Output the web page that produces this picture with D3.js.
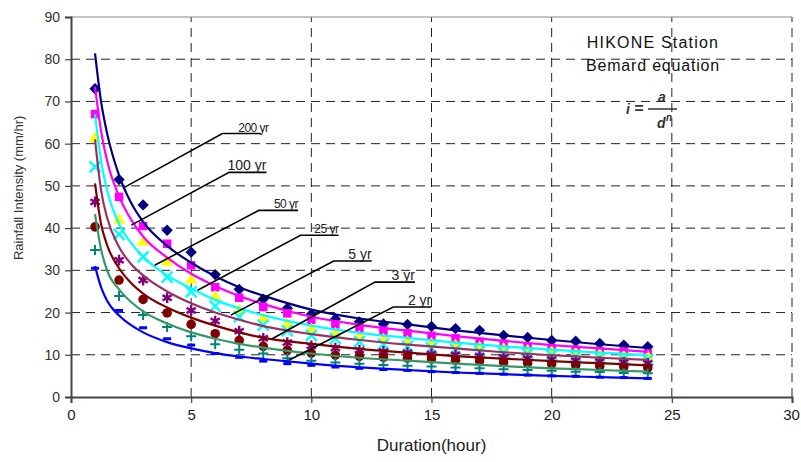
<!DOCTYPE html>
<html><head><meta charset="utf-8">
<script src="https://cdn.jsdelivr.net/npm/d3@7"></script>
<style>body{margin:0;background:#fff}svg{display:block;font-family:"Liberation Sans",Arial,sans-serif}</style>
</head><body><svg id="c" width="801" height="462"></svg>
<script>
// ---- data ----
const durations = [1,2,3,4,5,6,7,8,9,10,11,12,13,14,15,16,17,18,19,20,21,22,23,24];
const xTicks = [0,5,10,15,20,25,30];
const yTicks = [0,10,20,30,40,50,60,70,80,90];
const s1 = [73,51.5,45.5,39.5,34.3,29,25.5,23.2,21,19.6,18.5,17.8,17.3,17.2,16.7,16.2,15.8,14.6,14.1,13.4,13.2,12.7,12.3,11.9];
const s2 = [67,47.4,40.5,36.3,31.2,26,23.5,21.3,19.8,18.3,17.2,16.4,15.7,15.1,14.5,13.9,13.1,12.6,11.9,11.6,11.2,10.8,10.9,10.3];
const s3 = [61.2,41.9,36.7,32,27.7,23.7,20.5,18.6,17.2,16.0,15.0,14.2,13.6,13.1,12.6,12.2,11.8,11.4,11.0,10.7,10.4,10.1,9.8,9.5];
const s4 = [54.5,38.5,33.2,28.4,24.9,21.5,19.0,17.0,15.7,14.6,13.8,13.1,12.5,12.0,11.6,11.2,10.8,10.5,10.2,9.9,9.6,9.3,9.1,8.8];
const s5 = [46.2,32.4,27.7,23.5,20.5,18.0,15.6,13.9,12.9,12.1,11.6,11.1,10.8,10.5,10.2,10.0,9.7,9.4,9.1,8.9,8.6,8.4,8.2,8.0];
const s6 = [40.3,27.7,23.1,19.9,17.2,15.0,13.4,12.0,11.1,10.4,9.9,9.6,9.4,9.2,9.0,8.7,8.5,8.2,8.0,7.8,7.5,7.3,7.1,6.9];
const s7 = [34.8,23.9,19.4,16.6,14.4,12.5,11.2,10.3,9.2,8.6,8.2,7.9,7.6,7.4,7.2,7.0,6.8,6.6,6.4,6.2,6.0,5.9,5.7,5.6];
const s8 = [30.5,20.5,16.4,13.8,12.3,10.3,9.4,8.5,7.9,7.5,7.1,6.8,6.5,6.3,6.0,5.8,5.6,5.4,5.2,5.0,4.9,4.7,4.6,4.4];
// fitted curves
const curveX = [1,1.25,1.5,2,2.5,3,4,5,6,7,8,10,12,14,16,18,20,22,24];
const c200 = [81.4,70,62.5,52.5,46,41.5,35.8,31.8,28.6,26,24,20.7,18.6,17.2,15.8,14.6,13.5,12.5,11.6];
const c100 = [73.5,63,56,47.5,42,38,33,29.2,26.3,23.9,22,19,17.1,15.7,14.4,13.3,12.3,11.5,10.7];
const c50  = [67,56,49,41,36.5,33.2,28.8,25.7,23.0,21.0,19.4,16.9,15.2,14.0,12.9,12.0,11.2,10.5,9.9];
const c25  = [61,49,42.5,35.5,31.5,28.8,25,22.2,20.0,18.3,16.8,14.9,13.5,12.4,11.5,10.6,9.9,9.3,8.8];
const c5   = [50.6,41,36,30.5,27,24.5,21.2,18.8,16.9,15.3,14.0,12.6,11.4,10.5,9.7,9.1,8.5,8.0,7.5];
const c3   = [43.3,35,30,25.5,22.5,20.3,17.4,15.3,13.8,12.6,11.7,10.3,9.3,8.6,7.9,7.3,6.8,6.4,6.0];
const c2   = [31,26,22.8,19.3,17,15.3,13.0,11.5,10.4,9.6,9.0,7.9,7.0,6.4,5.8,5.4,5.0,4.7,4.4];
const labels = ["200 yr","100 yr","50 yr","25 yr","5 yr","3 yr","2 yr"];
// leader: start (x,y), elbow (x,y), end x  — in data units
const leaderStart = [[2.24,49.7],[2.51,40.7],[3.48,31.2],[5.27,25.3],[6.65,19.4],[8.37,13.8],[9.06,8.7]];
const leaderElbow = [[6.30,62.4],[6.58,53.2],[7.82,44.2],[9.55,38.3],[10.93,32.2],[12.65,27.2],[13.41,21.3]];
const leaderEnd = [7.89,8.13,9.45,11.13,12.51,14.31,14.99];
const titleLines = ["HIKONE Station","Bemard equation"];
const xTitle = "Duration(hour)";
const yTitle = "Rainfall Intensity (mm/hr)";

// ---- chart ----
const svg = d3.select("#c");
const x = d3.scaleLinear().domain([0,30]).range([71,792]);
const y = d3.scaleLinear().domain([0,90]).range([397,17]);

// grid
const g = svg.append("g");
g.selectAll(".hg").data(yTicks.filter(d=>d>0&&d<90)).join("line")
  .attr("x1",x(0)).attr("x2",x(30)).attr("y1",d=>y(d)).attr("y2",d=>y(d))
  .attr("stroke","#222").attr("stroke-width",1).attr("stroke-dasharray","9,6");
g.selectAll(".vg").data(xTicks.filter(d=>d>0)).join("line")
  .attr("x1",d=>x(d)).attr("x2",d=>x(d)).attr("y1",y(0)).attr("y2",y(90))
  .attr("stroke","#222").attr("stroke-width",1).attr("stroke-dasharray","9,6");
g.append("line").attr("x1",x(0)).attr("x2",x(30)).attr("y1",y(90)).attr("y2",y(90))
  .attr("stroke","#888").attr("stroke-width",1);

// axes
const yAxis = svg.append("g").attr("transform",`translate(${x(0)},0)`)
  .call(d3.axisLeft(y).tickValues(yTicks).tickSize(6).tickPadding(5));
const xAxis = svg.append("g").attr("transform",`translate(0,${y(0)})`)
  .call(d3.axisBottom(x).tickValues(xTicks).tickSize(6).tickPadding(6));
[yAxis,xAxis].forEach(a=>{
  a.select(".domain").attr("stroke","#444").attr("stroke-width",2);
  a.selectAll(".tick line").attr("stroke","#444").attr("stroke-width",1.2);
});
yAxis.selectAll("text").attr("font-size",14).attr("fill","#333").attr("font-family","Liberation Sans, Arial");
xAxis.selectAll("text").attr("font-size",15).attr("fill","#222").attr("font-family","Liberation Sans, Arial")
  .attr("dx",d=>d===30?-1:0);

svg.append("text").attr("x",(x(0)+x(30))/2).attr("y",451).attr("text-anchor","middle")
  .attr("font-size",17).attr("fill","#222").text(xTitle);
svg.append("text").attr("transform",`translate(23,${y(50)+2}) rotate(-90)`).attr("text-anchor","middle")
  .attr("font-size",13).attr("fill","#333").text(yTitle);

// markers
const mk = svg.append("g");
const sym = (type,size)=>d3.symbol().type(type).size(size)();
const pos = (d,i)=>`translate(${x(durations[i])},${y(d)})`;
mk.selectAll(".m1").data(s1).join("path").attr("d",sym(d3.symbolSquare,64))
  .attr("transform",(d,i)=>pos(d,i)+" rotate(45)").attr("fill","#000080");
mk.selectAll(".m2").data(s2).join("path").attr("d",sym(d3.symbolSquare,72))
  .attr("transform",pos).attr("fill","#FF00FF");
mk.selectAll(".m3").data(s3).join("path").attr("d",sym(d3.symbolTriangle,64))
  .attr("transform",pos).attr("fill","#FFFF00");
mk.selectAll(".m4").data(s4).join("path").attr("d",sym(d3.symbolX,80))
  .attr("transform",pos).attr("fill","none").attr("stroke","#00FFFF").attr("stroke-width",2.4);
mk.selectAll(".m5").data(s5).join("path").attr("d",sym(d3.symbolAsterisk,80))
  .attr("transform",pos).attr("fill","none").attr("stroke","#800080").attr("stroke-width",2.4);
mk.selectAll(".m6").data(s6).join("path").attr("d",sym(d3.symbolCircle,72))
  .attr("transform",pos).attr("fill","#800000");
mk.selectAll(".m7").data(s7).join("path").attr("d","M-5,0H5M0,-5V5")
  .attr("transform",pos).attr("fill","none").attr("stroke","#008080").attr("stroke-width",2);
mk.selectAll(".m8").data(s8).join("path").attr("d","M-4,0H4")
  .attr("transform",pos).attr("fill","none").attr("stroke","#0000FF").attr("stroke-width",3);

// curves
const curves = [c200,c100,c50,c25,c5,c3,c2];
const curveColors = ["#000080","#FF00FF","#00FFFF","#993366","#800000","#339966","#0000FF"];
const line = d3.line().x((d,i)=>x(curveX[i])).y(d=>y(d)).curve(d3.curveMonotoneX);
svg.append("g").selectAll("path").data(curves).join("path")
  .attr("d",d=>line(d)).attr("fill","none").attr("stroke",(d,i)=>curveColors[i]).attr("stroke-width",2.2);

// leaders
const lg = svg.append("g");
labels.forEach((lab,i)=>{
  const p = [[x(leaderStart[i][0]),y(leaderStart[i][1])],[x(leaderElbow[i][0]),y(leaderElbow[i][1])],[x(leaderEnd[i]),y(leaderElbow[i][1])]];
  lg.append("path").attr("d",d3.line()(p)).attr("fill","none").attr("stroke","#000").attr("stroke-width",1.6);
  lg.append("text").attr("x",x(leaderEnd[i])+ (i===0?8:0)).attr("y",y(leaderElbow[i][1])-2)
    .attr("text-anchor","end").attr("font-size",i===0||i===2||i===3?12:14).attr("fill","#222")
    .attr("letter-spacing", i===0||i===2||i===3? -0.5 : 0).text(lab);
});

// titles
svg.append("text").attr("x",653).attr("y",48).attr("text-anchor","middle").attr("font-size",16)
  .attr("letter-spacing",1.2).attr("fill","#111").text(titleLines[0]);
svg.append("text").attr("x",653).attr("y",71).attr("text-anchor","middle").attr("font-size",16)
  .attr("letter-spacing",0.8).attr("fill","#111").text(titleLines[1]);
// equation i = a / d^n
const eq = svg.append("g").attr("fill","#333").attr("font-weight","bold").attr("font-style","italic");
eq.append("text").attr("x",626).attr("y",114).attr("font-size",14).text("i");
eq.append("text").attr("x",634).attr("y",114).attr("font-size",16).text("=");
eq.append("line").attr("x1",648).attr("x2",677).attr("y1",109).attr("y2",109).attr("stroke","#333").attr("stroke-width",1.5);
eq.append("text").attr("x",662).attr("y",102).attr("text-anchor","middle").attr("font-size",14).text("a");
eq.append("text").attr("x",657).attr("y",128).attr("font-size",14).text("d");
eq.append("text").attr("x",666).attr("y",121).attr("font-size",10).text("n");
</script></body></html>
